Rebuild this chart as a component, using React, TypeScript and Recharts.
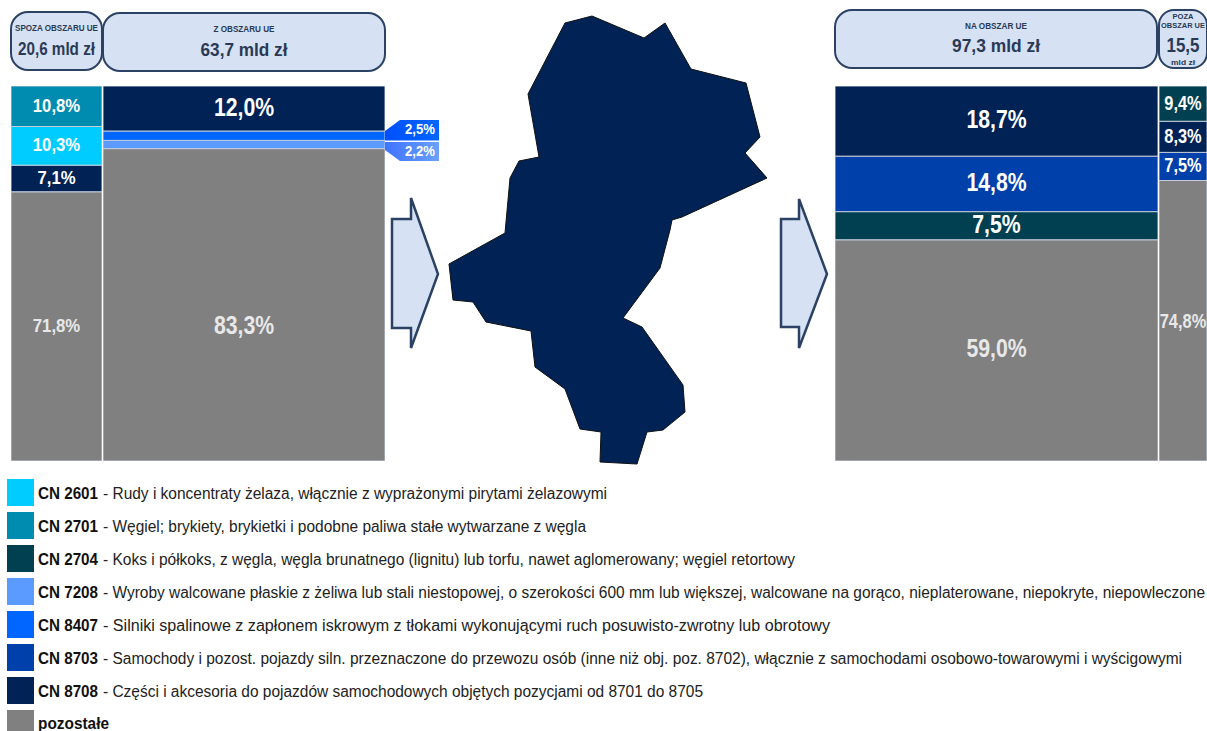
import React from "react";
import { BarChart, Bar, XAxis, YAxis, LabelList } from "recharts";

const codes = ["CN 2601", "CN 2701", "CN 2704", "CN 7208", "CN 8407", "CN 8703", "CN 8708", "pozostałe"];
const colors = ["#00ccff", "#008cb0", "#004050", "#5b9bff", "#0066ff", "#0040aa", "#002255", "#808080"];
const descriptions = [
  "- Rudy i koncentraty żelaza, włącznie z wyprażonymi pirytami żelazowymi",
  "- Węgiel; brykiety, brykietki i podobne paliwa stałe wytwarzane z węgla",
  "- Koks i półkoks, z węgla, węgla brunatnego (lignitu) lub torfu, nawet aglomerowany; węgiel retortowy",
  "- Wyroby walcowane płaskie z żeliwa lub stali niestopowej, o szerokości 600 mm lub większej, walcowane na gorąco, nieplaterowane, niepokryte, niepowleczone",
  "- Silniki spalinowe z zapłonem iskrowym z tłokami wykonującymi ruch posuwisto-zwrotny lub obrotowy",
  "- Samochody i pozost. pojazdy siln. przeznaczone do przewozu osób (inne niż obj. poz. 8702), włącznie z samochodami osobowo-towarowymi i wyścigowymi",
  "- Części i akcesoria do pojazdów samochodowych objętych pozycjami od 8701 do 8705",
  "",
];
const legendEnds = [607, 586, 795, 1205, 830, 1182, 703, 109];

// Stack order runs bottom to top
const col1Codes = ["pozostałe", "CN 8708", "CN 2601", "CN 2701"];
const col1Values = [71.8, 7.1, 10.3, 10.8];
const col2Codes = ["pozostałe", "CN 7208", "CN 8407", "CN 8708"];
const col2Values = [83.3, 2.2, 2.5, 12.0];
const col3Codes = ["pozostałe", "CN 2704", "CN 8703", "CN 8708"];
const col3Values = [59.0, 7.5, 14.8, 18.7];
const col4Codes = ["pozostałe", "CN 8703", "CN 8708", "CN 2704"];
const col4Values = [74.8, 7.5, 8.3, 9.4];

const NAVY = "#2b4265";
const FONT = "'Liberation Sans', Arial, sans-serif";

const pct = (v: number) => v.toFixed(1).replace(".", ",") + "%";
const naturalWidth = (s: string) =>
  [...s].reduce((a, c) => a + (c === "," ? 0.278 : c === "%" ? 0.889 : 0.556), 0);

function Column({ left, width, codesIn, values, fs, scale, dy = 0, otherDy = 0 }: any) {
  const row: any = { name: "x" };
  codesIn.forEach((c: string, i: number) => (row[c] = values[i]));
  return (
    <div style={{ position: "absolute", left, top: 86, width, height: 375 }}>
      <BarChart width={width} height={375} data={[row]} margin={{ top: 0, right: 0, bottom: 0, left: 0 }} barCategoryGap={0}>
        <XAxis dataKey="name" hide />
        <YAxis hide domain={[0, 100]} />
        {codesIn.map((c: string) => (
          <Bar key={c} dataKey={c} stackId="a" fill={colors[codes.indexOf(c)]} stroke="#c3cddb" strokeWidth={1} isAnimationActive={false}>
            <LabelList
              dataKey={c}
              content={(p: any) => {
                if (p.value < 3) return null;
                const t = pct(p.value);
                return (
                  <text
                    x={p.x + p.width / 2}
                    y={p.y + p.height / 2 + (c === "pozostałe" ? otherDy : dy)}
                    textAnchor="middle"
                    dominantBaseline="central"
                    fontFamily={FONT}
                    fontWeight="bold"
                    fontSize={fs}
                    fill={c === "pozostałe" ? "#e8e8e8" : "#ffffff"}
                    textLength={naturalWidth(t) * fs * scale}
                    lengthAdjust="spacingAndGlyphs"
                  >
                    {t}
                  </text>
                );
              }}
            />
          </Bar>
        ))}
      </BarChart>
    </div>
  );
}

function Box({ x, y, w, h, r, children }: any) {
  return (
    <g>
      <rect x={x} y={y} width={w} height={h} rx={r} ry={r} fill="#d6e1f3" stroke={NAVY} strokeWidth={2} />
      {children}
    </g>
  );
}

function T({ x, y, size, len, bold = true, fill = "#2a3a55", children }: any) {
  return (
    <text x={x} y={y} textAnchor="middle" fontFamily={FONT} fontWeight={bold ? "bold" : "normal"} fontSize={size} fill={fill} textLength={len} lengthAdjust="spacingAndGlyphs">
      {children}
    </text>
  );
}

const mapOutline =
  "565,23 592,16 644,38 665,23 691,69 746,83 760,137 745,153 767,178 682,217 672,220 670,230 660,268 623,318 642,327 683,385 685,412 663,430 647,432 637,464 600,462 601,432 580,429 565,389 535,367 531,331 486,322 473,302 453,300 449,264 505,233 510,178 519,161 539,157 528,94";
const arrowLeft = "392,219 411,219 411,198 438,274 411,348 411,328 392,328";
const arrowRight = "781,219 799,219 799,199 827,274 799,348 799,327 781,327";

export default function App() {
  return (
    <div style={{ position: "absolute", left: 0, top: 0, width: 1207, height: 731, overflow: "hidden", background: "#fff" }}>
      <Column left={11} width={91} codesIn={col1Codes} values={col1Values} fs={19} scale={0.88} dy={-1} otherDy={-1} />
      <Column left={103} width={282} codesIn={col2Codes} values={col2Values} fs={25} scale={0.85} dy={-2} otherDy={20} />
      <Column left={835} width={323} codesIn={col3Codes} values={col3Values} fs={25} scale={0.85} dy={-2} otherDy={-2} />
      <Column left={1159} width={48} codesIn={col4Codes} values={col4Values} fs={20} scale={0.82} dy={-1} otherDy={0} />
      <svg width={1207} height={731} style={{ position: "absolute", left: 0, top: 0, pointerEvents: "none" }}>
        <defs>
          <linearGradient id="callout25" x1="0" x2="1" y1="0" y2="0">
            <stop offset="0" stopColor="#0050ff" />
            <stop offset="1" stopColor="#0066ff" />
          </linearGradient>
          <linearGradient id="callout22" x1="0" x2="1" y1="0" y2="0">
            <stop offset="0" stopColor="#3f73ff" />
            <stop offset="1" stopColor="#6aa0ff" />
          </linearGradient>
        </defs>
        <Box x={11} y={12} w={91} h={58} r={17}>
          <T x={56.5} y={31} size={8.5} len={83}>SPOZA OBSZARU UE</T>
          <T x={56.5} y={55} size={18} len={77}>20,6 mld zł</T>
        </Box>
        <Box x={103} y={13} w={282} h={58} r={17}>
          <T x={244} y={32} size={8.5} len={61}>Z OBSZARU UE</T>
          <T x={244} y={56} size={18} len={87}>63,7 mld zł</T>
        </Box>
        <Box x={835} y={10} w={322} h={58} r={17}>
          <T x={996} y={29} size={8.5} len={62}>NA OBSZAR UE</T>
          <T x={996} y={52} size={18} len={88}>97,3 mld zł</T>
        </Box>
        <Box x={1159} y={10} w={48} h={58} r={15}>
          <T x={1183} y={19} size={7.5} len={21}>POZA</T>
          <T x={1183} y={28} size={7.5} len={44}>OBSZAR UE</T>
          <T x={1183} y={52} size={20} len={33}>15,5</T>
          <T x={1183} y={65} size={7} len={24}>mld zł</T>
        </Box>

        <polygon points="385,131 400,120 439,120 439,140.5 385,140.5" fill="url(#callout25)" />
        <polygon points="385,142 439,142 439,161 400,161 385,150" fill="url(#callout22)" />
        <T x={420} y={134} size={14} len={30} fill="#ffffff">{pct(col2Values[2])}</T>
        <T x={420} y={156} size={14} len={30} fill="#ffffff">{pct(col2Values[1])}</T>

        <polygon points={arrowLeft} fill="#d6e1f3" stroke={NAVY} strokeWidth={2.5} />
        <polygon points={arrowRight} fill="#d6e1f3" stroke={NAVY} strokeWidth={2.5} />
        <polygon points={mapOutline} fill={colors[6]} stroke="#111111" strokeWidth={1} />

        {codes.map((c, i) => {
          const y = i === 7 ? 729 : 499 + i * 33;
          const codeLen = i === 7 ? legendEnds[i] - 38 : 60;
          return (
            <g key={c}>
              <rect x={7} y={479 + i * 33} width={27} height={27} fill={colors[i]} />
              <text x={38} y={y} fontFamily={FONT} fontSize={16} fontWeight="bold" fill="#111111" textLength={codeLen} lengthAdjust="spacingAndGlyphs">
                {c}
              </text>
              {descriptions[i] ? (
                <text x={103} y={y} fontFamily={FONT} fontSize={16} fill="#222222" textLength={legendEnds[i] - 103} lengthAdjust="spacingAndGlyphs">
                  {descriptions[i]}
                </text>
              ) : null}
            </g>
          );
        })}
      </svg>
    </div>
  );
}
